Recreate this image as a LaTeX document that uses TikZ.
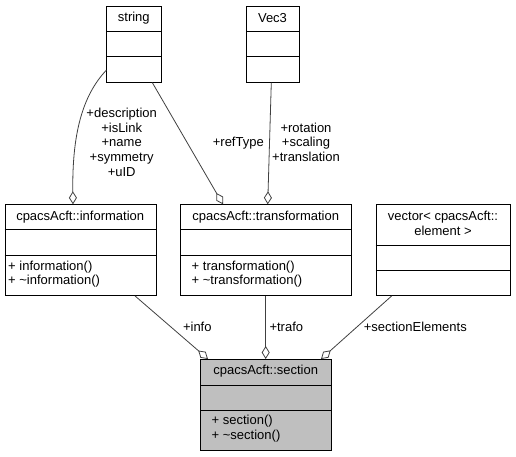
\documentclass[tikz,border=0pt]{standalone}
\usepackage{fontspec}
\setmainfont{Liberation Sans}
\usetikzlibrary{arrows.meta,calc}
\definecolor{edgec}{RGB}{64,64,64}
\definecolor{secfill}{RGB}{191,191,191}
\begin{document}
\begin{tikzpicture}[x=1pt,y=-1pt,
  box/.style={draw=black, line width=0.9pt, anchor=north west, inner sep=0pt, fill=white},
  lbl/.style={font=\fontsize{13}{14.75}\selectfont, inner sep=0pt, align=center},
  mlbl/.style={font=\fontsize{13}{14.75}\selectfont, inner sep=0pt, anchor=west, align=left},
  agg/.style={draw=edgec, line width=0.8pt, -{Diamond[open, length=13pt, width=8pt, line width=0.8pt]}},
  divider/.style={draw=black, line width=0.9pt},
]
\useasboundingbox (0,0) rectangle (516,456);

% string
\node[box, minimum width=55pt, minimum height=76pt] (str) at (106.3,5.7) {};
\draw[divider] (str.west |- 0,31) -- (str.east |- 0,31);
\draw[divider] (str.west |- 0,56.7) -- (str.east |- 0,56.7);
\node[lbl] (strt) at (133.8,18.3) {string};

% Vec3
\node[box, minimum width=52.4pt, minimum height=76pt] (vec) at (246.3,5.7) {};
\draw[divider] (vec.west |- 0,31) -- (vec.east |- 0,31);
\draw[divider] (vec.west |- 0,56.7) -- (vec.east |- 0,56.7);
\node[lbl] (vect) at (272.5,18.3) {Vec3};

% information
\node[box, minimum width=151pt, minimum height=90.7pt] (inf) at (4.7,204.3) {};
\draw[divider] (inf.west |- 0,229) -- (inf.east |- 0,229);
\draw[divider] (inf.west |- 0,255.3) -- (inf.east |- 0,255.3);
\node[lbl] (inft) at (80.2,216.7) {cpacsAcft::information};
\node[mlbl] (infm) at (8,274.2) {+ information()\\+ \textasciitilde information()};

% transformation
\node[box, minimum width=170.7pt, minimum height=90.7pt] (trf) at (180.3,204.3) {};
\draw[divider] (trf.west |- 0,229) -- (trf.east |- 0,229);
\draw[divider] (trf.west |- 0,255.3) -- (trf.east |- 0,255.3);
\node[lbl] (trft) at (265.7,216.7) {cpacsAcft::transformation};
\node[mlbl] (trfm) at (191.5,274.2) {+ transformation()\\+ \textasciitilde transformation()};

% vector< element >
\node[box, minimum width=134.6pt, minimum height=90.7pt] (vel) at (375.7,204.3) {};
\draw[divider] (vel.west |- 0,245) -- (vel.east |- 0,245);
\draw[divider] (vel.west |- 0,270) -- (vel.east |- 0,270);
\node[lbl] (velt) at (443,223.7) {vector< cpacsAcft::\\element >};

% section
\node[box, fill=secfill, minimum width=130.7pt, minimum height=91pt] (sec) at (200.3,359) {};
\draw[divider] (sec.west |- 0,385) -- (sec.east |- 0,385);
\draw[divider] (sec.west |- 0,410) -- (sec.east |- 0,410);
\node[lbl] (sect) at (265.7,371) {cpacsAcft::section};
\node[mlbl] (secm) at (211.5,428.7) {+ section()\\+ \textasciitilde section()};

% connectors
\draw[agg] (str.223) .. controls (82,96) and (72,135) .. (inf.north -| 73,0);
\draw[agg] (str.south -| 152.3,0) -- (trf.north -| 223,0);
\draw[agg] (vec.south -| 271.3,0) -- (trf.north -| 267.7,0);
\draw[agg] (inf.south -| 135,0) -- (sec.north -| 208,0);
\draw[agg] (trf.south -| 265.7,0) -- (sec.north -| 265.7,0);
\draw[agg] (vel.south -| 391.7,0) -- (sec.north -| 321,0);

% labels
\node[lbl] (l1) at (121.7,142.2) {+description\\+isLink\\+name\\+symmetry\\+uID};
\node[lbl] (l2) at (238.3,142.7) {+refType};
\node[lbl] (l3) at (306,142.2) {+rotation\\+scaling\\+translation};
\node[lbl] (l4) at (197.3,326.7) {+info};
\node[lbl] (l5) at (286.3,326.7) {+trafo};
\node[lbl] (l6) at (415.3,326.7) {+sectionElements};
\end{tikzpicture}
\end{document}
